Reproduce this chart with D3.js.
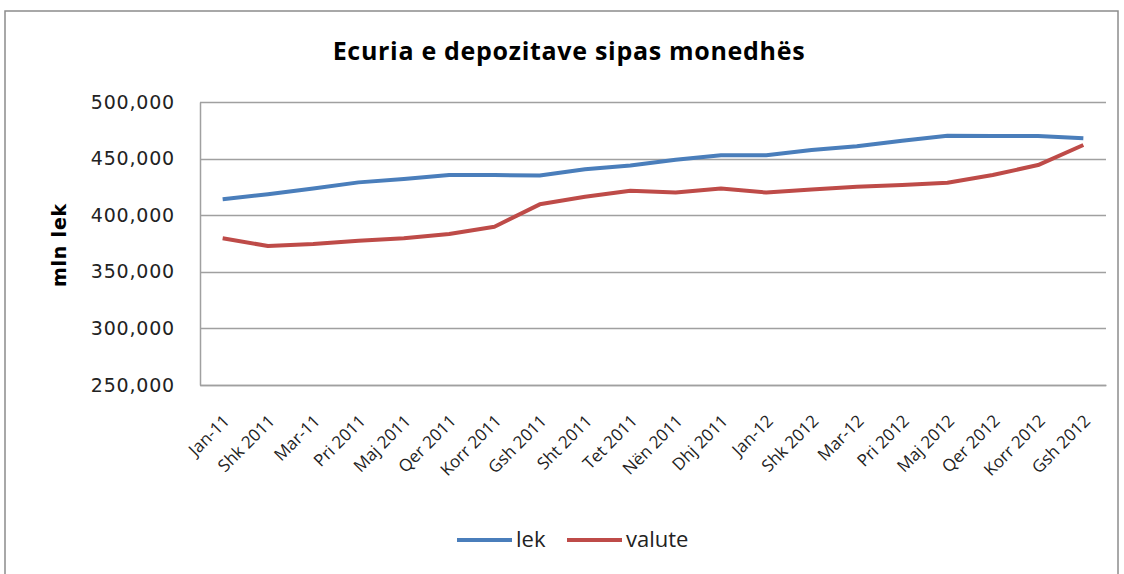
<!DOCTYPE html>
<html>
<head>
<meta charset="utf-8">
<script src="https://cdn.jsdelivr.net/npm/d3@7"></script>
<style>
  body { margin: 0; background: #fff; }
  svg { display: block; }
</style>
</head>
<body>
<div id="chart"></div>
<script>
// muajt
const months = ["Jan-11", "Shk 2011", "Mar-11", "Pri 2011", "Maj 2011", "Qer 2011", "Korr 2011", "Gsh 2011",
  "Sht 2011", "Tet 2011", "Nën 2011", "Dhj 2011", "Jan-12", "Shk 2012", "Mar-12", "Pri 2012",
  "Maj 2012", "Qer 2012", "Korr 2012", "Gsh 2012"];

const lek = [414000, 418500, 423500, 429000, 432000, 435500, 435500, 435000, 440500, 444000,
  449000, 453000, 453000, 457500, 461000, 465800, 470200, 470000, 470000, 468000];
const valute = [379600, 372800, 374600, 377500, 379600, 383400, 389800, 409600, 416300, 421600,
  420000, 423500, 420000, 422800, 425200, 426700, 428700, 435500, 444300, 462000];

const yTicks = [250000, 300000, 350000, 400000, 450000, 500000];

const series = [
  {name: "lek", values: lek, color: "#4a7ebb"},
  {name: "valute", values: valute, color: "#be4b48"}
];

const width = 1124, height = 574;
const margin = {top: 102, right: 18, bottom: 189, left: 200};

const svg = d3.select("#chart").append("svg")
  .attr("width", width)
  .attr("height", height);

// outer frame
svg.append("rect")
  .attr("x", 5).attr("y", 11)
  .attr("width", 1113).attr("height", 600)
  .attr("fill", "none")
  .attr("stroke", "#8c8c8c")
  .attr("stroke-width", 1.5);

const x = d3.scaleBand(months, [margin.left, width - margin.right]);
const y = d3.scaleLinear([250000, 500000], [height - margin.bottom, margin.top]);

// gridlines
svg.append("g")
  .attr("stroke", "#a0a0a0")
  .attr("stroke-width", 1.5)
  .selectAll("line")
  .data(yTicks)
  .join("line")
  .attr("x1", margin.left).attr("x2", width - margin.right)
  .attr("y1", d => Math.round(y(d)) + 0.5).attr("y2", d => Math.round(y(d)) + 0.5);

// y axis
const fmt = d3.format(",");
const yAxis = svg.append("g")
  .attr("transform", `translate(${margin.left},0)`)
  .call(d3.axisLeft(y).tickValues(yTicks).tickFormat(fmt).tickSize(0).tickPadding(25));
yAxis.select(".domain").attr("stroke", "#a0a0a0").attr("stroke-width", 1.5);
yAxis.selectAll("text")
  .attr("font-family", "'DejaVu Sans', sans-serif")
  .attr("font-size", 19)
  .attr("letter-spacing", 0.8)
  .attr("fill", "#222");

// x axis
const xAxis = svg.append("g")
  .attr("transform", `translate(0,${height - margin.bottom})`)
  .call(d3.axisBottom(x).tickSize(0).tickPadding(0));
xAxis.select(".domain").attr("stroke", "#a0a0a0").attr("stroke-width", 1.5);
xAxis.selectAll("text")
  .attr("font-family", "'Open Sans', sans-serif")
  .attr("font-size", 17)
  .attr("fill", "#222")
  .attr("text-anchor", "end")
  .attr("dy", 0)
  .attr("transform", "translate(8,37) rotate(-45)");

// lines
const line = d3.line()
  .x((d, i) => x(months[i]) + x.bandwidth() / 2)
  .y(d => y(d));

svg.append("g")
  .selectAll("path")
  .data(series)
  .join("path")
  .attr("fill", "none")
  .attr("stroke", d => d.color)
  .attr("stroke-width", 4)
  .attr("stroke-linejoin", "round")
  .attr("d", d => line(d.values));

// title
svg.append("text")
  .attr("x", 569).attr("y", 60)
  .attr("text-anchor", "middle")
  .attr("font-family", "'Open Sans', sans-serif")
  .attr("font-weight", "bold")
  .attr("font-size", 25)
  .attr("letter-spacing", 0.7)
  .attr("fill", "#000")
  .text("Ecuria e depozitave sipas monedhës");

// y title
svg.append("text")
  .attr("transform", "translate(66,245) rotate(-90)")
  .attr("text-anchor", "middle")
  .attr("font-family", "'DejaVu Sans', sans-serif")
  .attr("font-weight", "bold")
  .attr("font-size", 19)
  .attr("letter-spacing", 0.8)
  .attr("fill", "#000")
  .text("mln lek");

// legend
const legend = svg.append("g")
  .selectAll("g")
  .data(series)
  .join("g")
  .attr("transform", (d, i) => `translate(${[457, 567][i]},540)`);
legend.append("line")
  .attr("x1", 0).attr("x2", 55)
  .attr("stroke", d => d.color)
  .attr("stroke-width", 4);
legend.append("text")
  .attr("x", 59).attr("y", 7)
  .attr("font-family", "'Open Sans', sans-serif")
  .attr("font-size", 22)
  .attr("fill", "#222")
  .text(d => d.name);
</script>
</body>
</html>
